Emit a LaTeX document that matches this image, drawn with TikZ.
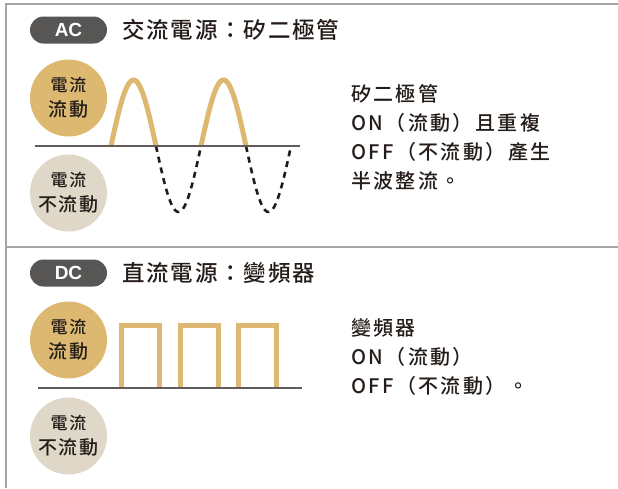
\documentclass[tikz,border=0pt]{standalone}
\usepackage{fontspec}
\setmainfont{Noto Sans CJK TC Medium}[LetterSpace=10]
\newfontfamily\pillfont{Liberation Sans}
\usetikzlibrary{positioning}
\definecolor{gold}{RGB}{220,184,112}
\definecolor{beige}{RGB}{223,215,199}
\definecolor{pillgray}{RGB}{88,86,84}
\definecolor{axisgray}{RGB}{98,92,88}
\definecolor{framegray}{RGB}{165,165,165}
\definecolor{ink}{RGB}{35,28,25}

\begin{document}
\begin{tikzpicture}[x=1pt,y=-1pt,
pill/.style={fill=pillgray,rounded corners=13.5pt,minimum width=77pt,minimum height=27pt,inner sep=0pt,text=white,font=\pillfont\bfseries\fontsize{19}{19}\selectfont},
title/.style={anchor=west,inner sep=0pt,text=ink,font=\addfontfeature{LetterSpace=8}\fontsize{22.5}{24}\selectfont},
oncirc/.style={circle,fill=gold,minimum size=77pt,inner sep=0pt,align=center,text=ink,font=\fontsize{19}{25}\selectfont},
offcirc/.style={oncirc,fill=beige},
note/.style={anchor=north west,inner sep=0pt,align=left,text=ink,font=\addfontfeature{LetterSpace=12}\fontsize{20}{29}\selectfont},
hump/.style={draw=gold,line width=5pt},
trough/.style={draw=ink,line width=2.6pt,dash pattern=on 6pt off 5pt},
axis/.style={draw=axisgray,line width=1.6pt},
frame/.style={draw=framegray,line width=2pt}]
\useasboundingbox (0,0) rectangle (618,488);
\draw[frame] (618,4)--(6,4)--(6,488);
\draw[frame] (6,247)--(618,247);

\node[pill] (acpill) at (68.5,30) {AC};
\node[title,right=15pt of acpill] (actitle) {交流電源：矽二極管};
\node[oncirc] (acon) at (68.5,98) {{\fontsize{17}{25}\selectfont 電流}\\流動};
\node[offcirc] (acoff) at (68.5,193) {{\fontsize{17}{25}\selectfont 電流}\\不流動};
\foreach \p in {0,90}{
\draw[hump] plot[domain=0:180,samples=40] ({111+\p+\x/4},{146-66*sin(\x)});
\draw[trough] plot[domain=0:180,samples=40] ({156+\p+\x/4},{146+66*sin(\x)});
}
\draw[axis] (35,146)--(300,146);
\node[note] (acnote) at (351,84) {矽二極管\\ON（流動）且重複\\OFF（不流動）產生\\半波整流。};

\node[pill] (dcpill) at (68.5,273) {DC};
\node[title,right=15pt of dcpill] (dctitle) {直流電源：變頻器};
\node[oncirc] (dcon) at (68.5,340) {{\fontsize{17}{25}\selectfont 電流}\\流動};
\node[offcirc] (dcoff) at (68.5,436) {{\fontsize{17}{25}\selectfont 電流}\\不流動};
\foreach \x in {121.5,180,238.5}
\draw[hump] (\x,388)--(\x,325.5)--(\x+38,325.5)--(\x+38,388);
\draw[axis] (38,388)--(302,388);
\node[note] (dcnote) at (351,318) {變頻器\\ON（流動）\\OFF（不流動）。};
\end{tikzpicture}
\end{document}
